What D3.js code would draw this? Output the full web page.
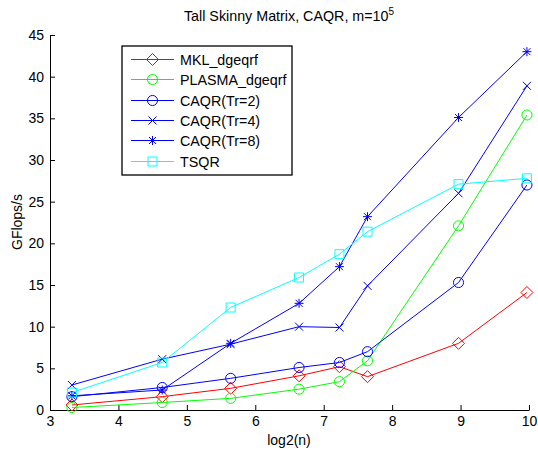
<!DOCTYPE html>
<html>
<head>
<meta charset="utf-8">
<script src="https://d3js.org/d3.v7.min.js"></script>
<style>
  body { margin: 0; background: #fff; }
  svg { font-family: "Liberation Sans", Arial, sans-serif; }
</style>
</head>
<body>
<svg width="538" height="450"></svg>
<script>
// log2(n) positions for n = 10, 25, 50, 100, 150, 200, 500, 1000
const logN = [3.32, 4.64, 5.64, 6.64, 7.23, 7.64, 8.97, 9.97];

const mkl    = [0.6, 1.6, 2.6, 4.1, 5.2, 4.0, 8.0, 14.1];
const plasma = [0.3, 0.9, 1.4, 2.5, 3.4, 5.9, 22.1, 35.4];
const caqr2  = [1.6, 2.7, 3.8, 5.1, 5.7, 7.0, 15.3, 27.0];
const caqr4  = [3.0, 6.1, 7.9, 10.0, 9.9, 14.9, 26.0, 38.9];
const caqr8  = [1.7, 2.4, 8.0, 12.8, 17.2, 23.2, 35.1, 43.0];
const tsqr   = [2.1, 5.7, 12.3, 15.9, 18.7, 21.4, 27.1, 27.8];

const seriesNames = ["MKL_dgeqrf", "PLASMA_dgeqrf", "CAQR(Tr=2)", "CAQR(Tr=4)", "CAQR(Tr=8)", "TSQR"];
const xTicks = [3, 4, 5, 6, 7, 8, 9, 10];
const yTicks = [0, 5, 10, 15, 20, 25, 30, 35, 40, 45];

const series = [
  { name: seriesNames[0], values: mkl,    color: "#ff0000", marker: "diamond" },
  { name: seriesNames[1], values: plasma, color: "#00ff00", marker: "circle" },
  { name: seriesNames[2], values: caqr2,  color: "#0000ff", marker: "circle" },
  { name: seriesNames[3], values: caqr4,  color: "#0000ff", marker: "x" },
  { name: seriesNames[4], values: caqr8,  color: "#0000ff", marker: "star" },
  { name: seriesNames[5], values: tsqr,   color: "#00ffff", marker: "square" }
];

const svg = d3.select("svg");
const x = d3.scaleLinear().domain([3, 10]).range([50, 529]);
const y = d3.scaleLinear().domain([0, 45]).range([410, 35]);

// marker path strings centred on 0,0
function markerPath(type) {
  if (type === "circle") return d3.symbol(d3.symbolCircle, 80)();
  if (type === "diamond") return "M0,-6L6,0L0,6L-6,0Z";
  if (type === "square") return "M-4.5,-4.5H4.5V4.5H-4.5Z";
  if (type === "x") return "M-4,-4L4,4M-4,4L4,-4";
  if (type === "star") return "M-4.5,0H4.5M0,-4.5V4.5M-3.5,-3.5L3.5,3.5M-3.5,3.5L3.5,-3.5";
}

// axes
svg.append("g")
  .attr("transform", "translate(0,410)")
  .call(d3.axisBottom(x).tickValues(xTicks).tickFormat(d3.format("d"))
    .tickSizeInner(-5).tickSizeOuter(0).tickPadding(6))
  .call(g => g.selectAll("text").attr("font-size", 14).attr("font-family", null).attr("fill", "#000"))
  .call(g => g.selectAll("line,path").attr("stroke", "#000"));

svg.append("g")
  .attr("transform", "translate(50,0)")
  .call(d3.axisLeft(y).tickValues(yTicks).tickSizeInner(-5).tickSizeOuter(0).tickPadding(6))
  .call(g => g.selectAll("text").attr("font-size", 14).attr("font-family", null).attr("fill", "#000"))
  .call(g => g.selectAll("line,path").attr("stroke", "#000"));

// lines and markers
const line = d3.line().x((d, i) => x(logN[i])).y(d => y(d));

series.forEach(s => {
  svg.append("path")
    .attr("d", line(s.values))
    .attr("fill", "none")
    .attr("stroke", s.color)
    .attr("stroke-width", 1);

  svg.append("g").selectAll("path")
    .data(s.values)
    .join("path")
    .attr("transform", (d, i) => `translate(${x(logN[i])},${y(d)})`)
    .attr("d", markerPath(s.marker))
    .attr("fill", "none")
    .attr("stroke", s.color)
    .attr("stroke-width", 1);
});

// legend
const legend = svg.append("g");
legend.append("rect")
  .attr("x", 122).attr("y", 46)
  .attr("width", 170).attr("height", 129)
  .attr("fill", "#fff").attr("stroke", "#000").attr("stroke-width", 1.3);

const items = legend.selectAll("g.item")
  .data(series)
  .join("g")
  .attr("class", "item")
  .attr("transform", (d, i) => `translate(0,${Math.round(59 + i * 20.3) + 0.5})`);

items.append("line")
  .attr("x1", 131).attr("x2", 174)
  .style("stroke", d => d.color).style("stroke-width", 1);
items.append("path")
  .attr("transform", "translate(152.5,0)")
  .attr("d", d => markerPath(d.marker))
  .style("fill", "none").style("stroke", d => d.color).style("stroke-width", 1);
items.append("text")
  .attr("x", 180).attr("y", 5)
  .attr("font-size", 14.3)
  .attr("fill", "#000")
  .text(d => d.name);

// title and labels
const title = svg.append("text")
  .attr("x", 289).attr("y", 21)
  .attr("text-anchor", "middle")
  .attr("font-size", 14.3);
title.append("tspan").text("Tall Skinny Matrix, CAQR,  m=10");
title.append("tspan").attr("dy", -6).attr("font-size", 10).text("5");

svg.append("text")
  .attr("x", 289).attr("y", 445)
  .attr("text-anchor", "middle")
  .attr("font-size", 14)
  .text("log2(n)");

svg.append("text")
  .attr("transform", "translate(22,222) rotate(-90)")
  .attr("text-anchor", "middle")
  .attr("font-size", 14)
  .text("GFlops/s");
</script>
</body>
</html>
